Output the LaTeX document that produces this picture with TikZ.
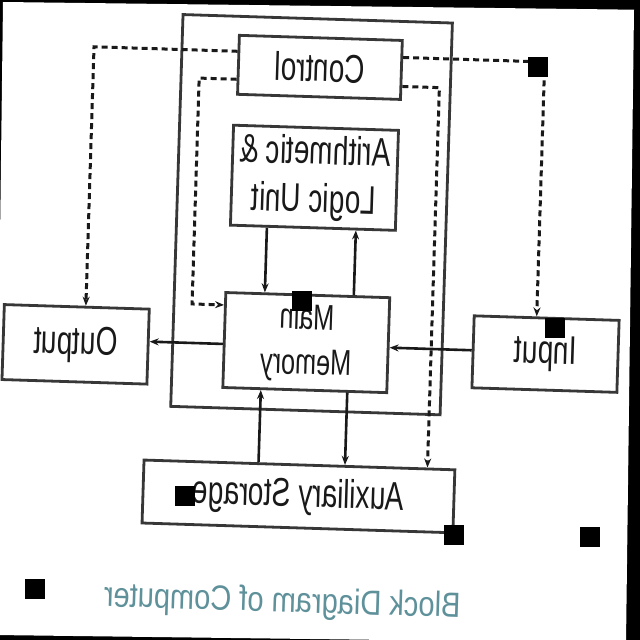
\documentclass[tikz,border=0pt]{standalone}
\usepackage{fontspec}
\usepackage{tikz}
\usetikzlibrary{arrows.meta}
\newfontfamily\boxfont[FakeStretch=0.7]{Liberation Sans}
\newfontfamily\titlefont[FakeStretch=0.83]{Liberation Sans}
\definecolor{frame}{RGB}{55,55,55}
\definecolor{ink}{RGB}{25,25,25}
\definecolor{caption}{RGB}{95,145,155}

\begin{document}
\begin{tikzpicture}[x=1pt, y=-1pt,
  block/.style={draw=frame, line width=2.8pt, text=ink, align=center, inner sep=0pt,
    font=\boxfont\fontsize{40}{48}\selectfont},
  flow/.style={line width=2.6pt, draw=ink, -{Stealth[length=9pt,width=7pt]}},
  ctrlflow/.style={flow, line width=3pt, dash pattern=on 6pt off 4pt}]
  % Page
  \useasboundingbox (0,0) rectangle (640,640);
  \fill[black] (0,0) rectangle (640,640);
  \fill[white] (3,2) -- (634,9.7) -- (626,643) -- (-5,635) -- cycle;

  \begin{scope}[rotate around={-1.8:(320,320)}, xshift=640pt, xscale=-1, transform shape]
  % CPU frame
  \draw[frame, line width=2.8pt] (197,19) rectangle (466.5,411);

  % Blocks
  \node[block, minimum width=163pt, minimum height=59pt] (ctrl) at (328,67.5) {Control};
  \node[block, minimum width=165pt, minimum height=100pt] (alu) at (330,178) {Arithmetic \&\\Logic Unit};
  \node[block, minimum width=164pt, minimum height=95pt,
    font=\boxfont\fontsize{36}{45}\selectfont] (mem) at (333,343) {Main\\Memory};
  \node[block, minimum width=145pt, minimum height=72pt] (in) at (93.5,347) {Input};
  \node[block, minimum width=145pt, minimum height=75pt] (out) at (563.5,352) {Output};
  \node[block, minimum width=311pt, minimum height=63pt] (aux) at (336,497) {Auxiliary Storage};

  % Control signals
  \draw[ctrlflow] ([yshift=12.5pt]ctrl.west) -| ([xshift=10pt]in.north);
  \draw[ctrlflow] ([yshift=-16.5pt]ctrl.west) -| ([xshift=-128pt]aux.north);
  \draw[ctrlflow] ([yshift=13.5pt]ctrl.east) -| ([xshift=-9pt]out.north);
  \draw[ctrlflow] ([yshift=-14.5pt]ctrl.east) -- ++(37.5,0) |- ([yshift=35pt]mem.east);

  % Data paths
  \draw[flow] ([xshift=46pt]alu.south) -- ([xshift=46pt]alu.south |- mem.north);
  \draw[flow] ([xshift=-43pt]alu.south |- mem.north) -- ([xshift=-43pt]alu.south);
  \draw[flow] ([xshift=-42.5pt]mem.south) -- ([xshift=-42.5pt]mem.south |- aux.north);
  \draw[flow] ([xshift=44pt]mem.south |- aux.north) -- ([xshift=44pt]mem.south);
  \draw[flow] ([yshift=-2.5pt]mem.west -| in.east) -- ([yshift=-2.5pt]mem.west);
  \draw[flow] ([yshift=-4pt]mem.east) -- ([yshift=-4pt]mem.east -| out.west);

  % Caption
  \node[text=caption, font=\titlefont\fontsize{35}{42}\selectfont] (title) at (349,604) {Block Diagram of Computer};
  \end{scope}

  % Specks
  \foreach \x/\y in {538/67, 302/301, 555/328, 185/496, 454/535, 590/537, 35/589} {
    \fill[black] (\x-10,\y-10) rectangle (\x+10,\y+10);
  }
\end{tikzpicture}
\end{document}
